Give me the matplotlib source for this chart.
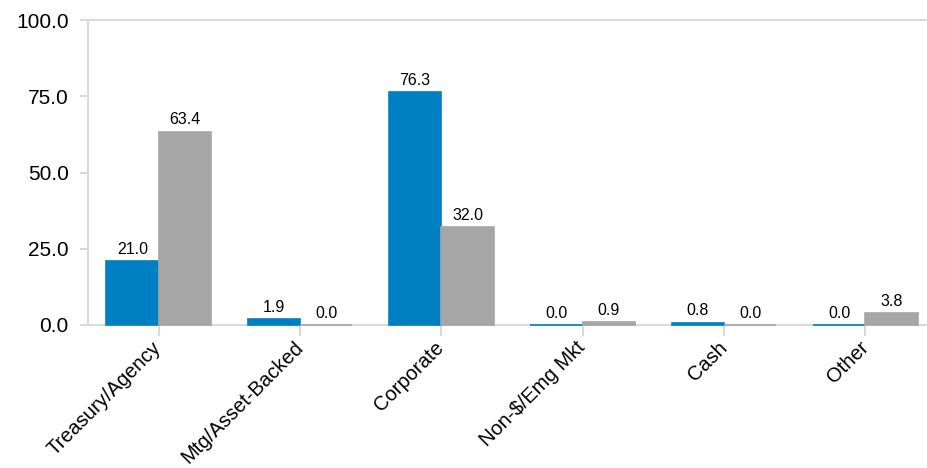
import numpy as np
import matplotlib.pyplot as plt
import matplotlib as mpl

mpl.rcParams["font.family"] = ["Liberation Sans", "DejaVu Sans"]

categories = ["Treasury/Agency", "Mtg/Asset-Backed", "Corporate",
              "Non-$/Emg Mkt", "Cash", "Other"]
fund = [21.0, 1.9, 76.3, 0.0, 0.8, 0.0]
benchmark = [63.4, 0.0, 32.0, 0.9, 0.0, 3.8]
yticks = [0, 25, 50, 75, 100]

blue = "#0080c3"
grey = "#a6a6a6"
spine_col = "#d9d9d9"

fig = plt.figure(figsize=(9.28, 4.68), dpi=100)
ax = fig.add_axes([88 / 928, 143 / 468, 848 / 928, 305 / 468])

x = np.arange(len(categories))
w = 0.37
b1 = ax.bar(x - w / 2, fund, w, color=blue, edgecolor=blue, linewidth=1.2,
            clip_on=False, zorder=3)
b2 = ax.bar(x + w / 2, benchmark, w, color=grey, edgecolor=grey, linewidth=1.2,
            clip_on=False, zorder=3)

for bars, vals in ((b1, fund), (b2, benchmark)):
    for rect, v in zip(bars, vals):
        ax.annotate("%.1f" % v, (rect.get_x() + rect.get_width() / 2, v),
                    xytext=(0, 3), textcoords="offset points",
                    ha="center", va="bottom", fontsize=11.5)

ax.set_xlim(-0.5, len(categories) - 0.5)
ax.set_ylim(0, 100)
ax.set_yticks(yticks)
ax.set_yticklabels(["%.1f" % t for t in yticks])
ax.set_xticks(x)
ax.set_xticklabels(categories, rotation=45, ha="right", rotation_mode="anchor",
                   va="center")

ax.spines["right"].set_visible(False)
for s in ("left", "bottom", "top"):
    ax.spines[s].set_color(spine_col)
    ax.spines[s].set_linewidth(1.5)

ax.tick_params(axis="y", length=6, width=1.5, color=spine_col, pad=8,
               labelsize=15)
ax.tick_params(axis="x", length=8, width=1.5, color=spine_col, pad=6,
               labelsize=14.5)

fig.savefig("out.png", dpi=100)
